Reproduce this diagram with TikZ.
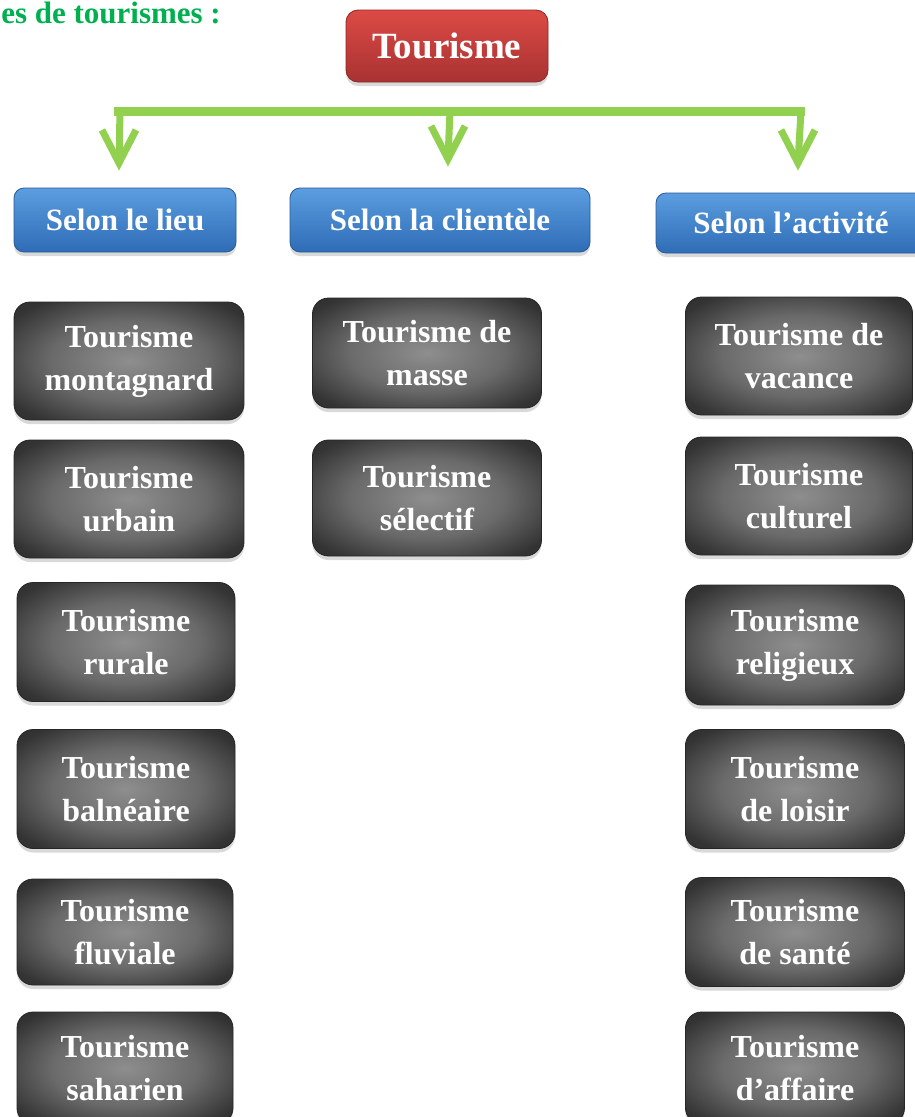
\documentclass[tikz,border=0pt]{standalone}
\usepackage{fontspec}
\setmainfont{Liberation Serif}
\usetikzlibrary{shadows}
\definecolor{titlegreen}{HTML}{00B050}
\definecolor{bargreen}{HTML}{92D050}
\definecolor{redtop}{HTML}{DC4A45}
\definecolor{redbot}{HTML}{A83232}
\definecolor{redline}{HTML}{8A2626}
\definecolor{bluetop}{HTML}{5B9EE0}
\definecolor{bluebot}{HTML}{2F6CB6}
\definecolor{blueline}{HTML}{28599A}
\definecolor{darkin}{HTML}{8E8E8E}
\definecolor{darkinner}{HTML}{6A6A6A}
\definecolor{darkmid}{HTML}{343434}
\definecolor{darkout}{HTML}{222222}
\pgfdeclareradialshading{darkglow}{\pgfpoint{0bp}{0bp}}{color(0bp)=(darkin); color(17bp)=(darkinner); color(31bp)=(darkmid); color(45bp)=(darkout); color(72bp)=(darkout)}
\begin{document}
\begin{tikzpicture}[x=1pt,y=-1pt,
  boxbase/.style={rounded corners=16pt, inner sep=0pt, align=center, text=white,
    drop shadow={shadow xshift=0pt, shadow yshift=-4pt, opacity=0.3}},
  darkbox/.style={boxbase, shading=darkglow, draw=black!85, line width=0.8pt,
    font=\fontsize{32}{43}\selectfont\bfseries},
  bluebox/.style={boxbase, rounded corners=10pt, top color=bluetop, bottom color=bluebot, draw=blueline, line width=0.8pt,
    font=\fontsize{31}{36}\selectfont\bfseries},
  redbox/.style={boxbase, rounded corners=12pt, top color=redtop, bottom color=redbot, draw=redline, line width=0.8pt,
    font=\fontsize{37}{40}\selectfont\bfseries},
  barline/.style={draw=bargreen, line width=9pt},
  stemline/.style={draw=bargreen, line width=7pt},
  chevron/.style={draw=bargreen, line width=7pt, line join=miter}
]
\useasboundingbox (0,0) rectangle (915,1117);
\clip (0,0) rectangle (915,1117);

% title
\node[anchor=base east, text=titlegreen, inner sep=0pt, font=\fontsize{31}{34}\selectfont\bfseries] (title) at (221,23) {es de tourismes :};

% root
\node[redbox, minimum width=202pt, minimum height=72pt] (root) at (447,46) {Tourisme};

% categories
\node[bluebox, minimum width=222pt, minimum height=64pt] (lieu) at (125,220) {Selon le lieu};
\node[bluebox, minimum width=300pt, minimum height=64pt] (client) at (440,220) {Selon la clientèle};
\node[bluebox, minimum width=270pt, minimum height=60pt] (activ) at (791,223) {Selon l’activité};

% green connectors
\coordinate (bl) at (114,111);
\coordinate (br) at (805,111);
\coordinate (sl) at (120,111);
\coordinate (sm) at (450,111);
\coordinate (sr) at (801,111);
\coordinate (tl) at (119,163);
\coordinate (tm) at (448,159);
\coordinate (tr) at (798,163);
\draw[barline] (bl) -- (br);
\draw[stemline] (sl) -- (tl);
\draw[stemline] (sm) -- (tm);
\draw[stemline] (sr) -- (tr);
\draw[chevron] ([xshift=-17pt,yshift=33pt]tl) -- (tl) -- ([xshift=17pt,yshift=33pt]tl);
\draw[chevron] ([xshift=-17pt,yshift=33pt]tm) -- (tm) -- ([xshift=17pt,yshift=33pt]tm);
\draw[chevron] ([xshift=-17pt,yshift=33pt]tr) -- (tr) -- ([xshift=17pt,yshift=33pt]tr);

% left column
\node[darkbox, minimum width=230pt, minimum height=118pt] (l1) at (129,361) {Tourisme\\montagnard};
\node[darkbox, minimum width=230pt, minimum height=118pt] (l2) at (129,499) {Tourisme\\urbain};
\node[darkbox, minimum width=218pt, minimum height=119pt] (l3) at (126,642) {Tourisme\\rurale};
\node[darkbox, minimum width=218pt, minimum height=119pt] (l4) at (126,789) {Tourisme\\balnéaire};
\node[darkbox, minimum width=216pt, minimum height=106pt] (l5) at (125,932) {Tourisme\\fluviale};
\node[darkbox, minimum width=216pt, minimum height=112pt] (l6) at (125,1068) {Tourisme\\saharien};

% middle column
\node[darkbox, minimum width=229pt, minimum height=110pt] (m1) at (427,353) {Tourisme de\\masse};
\node[darkbox, minimum width=229pt, minimum height=116pt] (m2) at (427,498) {Tourisme\\sélectif};

% right column
\node[darkbox, minimum width=227pt, minimum height=118pt] (r1) at (799,356) {Tourisme de\\vacance};
\node[darkbox, minimum width=227pt, minimum height=118pt] (r2) at (799,496) {Tourisme\\culturel};
\node[darkbox, minimum width=219pt, minimum height=120pt] (r3) at (795,645) {Tourisme\\religieux};
\node[darkbox, minimum width=219pt, minimum height=119pt] (r4) at (795,789) {Tourisme\\de loisir};
\node[darkbox, minimum width=219pt, minimum height=109pt] (r5) at (795,932) {Tourisme\\de santé};
\node[darkbox, minimum width=219pt, minimum height=112pt] (r6) at (795,1068) {Tourisme\\d’affaire};
\end{tikzpicture}
\end{document}
